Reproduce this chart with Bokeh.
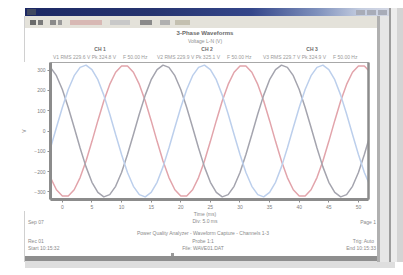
from bokeh.plotting import figure
from bokeh.models import Range1d, FixedTicker, Div, LinearAxis
from bokeh.layouts import column, row
from bokeh.embed import file_html
from bokeh.resources import INLINE

# ---- data ----
time_ms = list(range(-2, 53))
phase_red = [-230, -290,
             -321, -321, -290, -230, -148, -51, 51, 148, 230, 290, 321, 321, 290, 230, 148, 51, -51, -148, -230, -290,
             -321, -321, -290, -230, -148, -51, 51, 148, 230, 290, 321, 321, 290, 230, 148, 51, -51, -148, -230, -290,
             -321, -321, -290, -230, -148, -51, 51, 148, 230, 290, 321, 321, 290]
phase_grey = [314, 273,
              205, 116, 17, -84, -177, -253, -303, -325, -314, -273, -205, -116, -17, 84, 177, 253, 303, 325, 314, 273,
              205, 116, 17, -84, -177, -253, -303, -325, -314, -273, -205, -116, -17, 84, 177, 253, 303, 325, 314, 273,
              205, 116, 17, -84, -177, -253, -303, -325, -314, -273, -205, -116, -17]
phase_blue = [-84, 17,
              116, 205, 273, 314, 325, 303, 253, 177, 84, -17, -116, -205, -273, -314, -325, -303, -253, -177, -84, 17,
              116, 205, 273, 314, 325, 303, 253, 177, 84, -17, -116, -205, -273, -314, -325, -303, -253, -177, -84, 17,
              116, 205, 273, 314, 325, 303, 253, 177, 84, -17, -116, -205, -273]
x_ticks = [0, 5, 10, 15, 20, 25, 30, 35, 40, 45, 50]
y_ticks = [-300, -200, -100, 0, 100, 200, 300]
channel_names = ["CH 1", "CH 2", "CH 3"]
legend_main = ["V1 RMS 229.6 V  Pk 324.8 V", "V2 RMS 229.9 V  Pk 325.1 V", "V3 RMS 229.7 V  Pk 324.9 V"]
legend_freq = ["F 50.00 Hz", "F 50.00 Hz", "F 50.00 Hz"]

FONT = "Liberation Sans"

# ---- chart ----
p = figure(width=377, height=149, output_backend="svg", toolbar_location=None,
           x_range=Range1d(-2, 51.7), y_range=Range1d(-338, 338),
           min_border_left=50, min_border_right=9, min_border_top=0, min_border_bottom=8)
p.background_fill_color = "white"
p.border_fill_color = "white"
p.outline_line_color = "#a8a8a8"
p.outline_line_width = 1
p.grid.grid_line_color = None

p.line(time_ms, phase_red, line_color="#e2a4ab", line_width=1.5)
p.line(time_ms, phase_grey, line_color="#a4a4ae", line_width=1.5)
p.line(time_ms, phase_blue, line_color="#bccfec", line_width=1.5)

for ax in (p.xaxis[0], p.yaxis[0]):
    ax.axis_line_color = "#8c8c8c"
    ax.axis_line_width = 3
    ax.major_tick_line_color = "#8c8c8c"
    ax.major_tick_out = 3
    ax.major_tick_in = 0
    ax.minor_tick_line_color = None
    ax.major_label_text_font = FONT
    ax.major_label_text_font_size = "5px"
    ax.major_label_text_color = "#808080"
    ax.major_label_standoff = 2
p.xaxis.ticker = FixedTicker(ticks=x_ticks)
p.yaxis.ticker = FixedTicker(ticks=y_ticks)
p.yaxis.axis_label = "V"
p.yaxis.axis_label_text_font = FONT
p.yaxis.axis_label_text_font_size = "5px"
p.yaxis.axis_label_text_font_style = "normal"
p.yaxis.axis_label_text_color = "#808080"
p.yaxis.axis_label_standoff = 4

right_axis = LinearAxis(ticker=FixedTicker(ticks=[]), axis_line_color="#8c8c8c", axis_line_width=2.5,
                        major_tick_line_color=None, minor_tick_line_color=None,
                        major_label_text_alpha=0)
p.add_layout(right_axis, "right")


# ---- window chrome and page texts as HTML ----
def hbox(x, y, w, h, bg):
    return (f'<div style="position:absolute;left:{x}px;top:{y}px;width:{w}px;height:{h}px;'
            f'background:{bg};"></div>')


def htext(text, x, y, size=5, color="#8a8a8a", bold=False, align="center"):
    tx = {"center": "-50%", "left": "0", "right": "-100%"}[align]
    weight = "bold" if bold else "normal"
    return (f'<div style="position:absolute;left:{x}px;top:{y}px;transform:translate({tx},-50%);'
            f'white-space:nowrap;line-height:1;font-family:\'{FONT}\';font-size:{size}px;'
            f'font-weight:{weight};color:{color};">{text}</div>')


def panel(w, h, parts):
    html = (f'<div style="position:relative;width:{w}px;height:{h}px;overflow:hidden;background:white;">'
            + "".join(parts) + '</div>')
    return Div(text=html, width=w, height=h, margin=0,
               styles={"padding": "0", "margin": "0", "overflow": "hidden"})


def right_chrome(y0, y1, oy):
    # scroll bar and shadow on the right side, in panel coordinates (x offset 377)
    parts = []
    top = max(y0, 16)
    parts.append(hbox(0, top - oy, 3, y1 - top, "#b0b0b0"))
    parts.append(hbox(3, top - oy, 9, y1 - top, "#e6e6e6"))
    parts.append(hbox(12, max(y0, 8) - oy, 2, y1 - max(y0, 8), "#9c9c9c"))
    parts.append(hbox(14, max(y0, 8) - oy, 6, y1 - max(y0, 8), "#ececec"))
    parts.append(hbox(20, max(y0, 8) - oy, 6, y1 - max(y0, 8), "#d4d4d4"))
    return parts


top_parts = [
    hbox(25, 8, 365, 8, "linear-gradient(to right,#1c2864 0%,#26346f 35%,#34468a 62%,#7e90bc 80%,#c4cde0 92%,#d4d8e4 100%)"),
    hbox(27, 9, 9, 6, "#404860"),
    hbox(356, 10, 9, 5, "#a8acb8"), hbox(367, 10, 9, 5, "#a8acb8"), hbox(378, 10, 9, 5, "#a8acb8"),
    hbox(25, 16, 352, 12, "#e4e2da"),
    hbox(24, 16, 1, 46, "#d0d0d0"),
]
for (a, b, c) in [(30, 36, "#6a6a6a"), (38, 43, "#7a7a7a"), (50, 56, "#8a8a8a"), (58, 62, "#9a9a9a"),
                  (70, 102, "#d8b8b4"), (110, 130, "#c8c8c8"), (140, 152, "#8a8a8a"),
                  (160, 170, "#b0b0b0"), (175, 190, "#c4c0b0")]:
    top_parts.append(hbox(a, 20, b - a, 5, c))
top_parts.append(htext("3-Phase Waveforms", 205, 33, size=6, color="#6a6a6a", bold=True))
top_parts.append(htext("Voltage L-N (V)", 205, 41, color="#909090"))
for name, cx in zip(channel_names, [100, 207, 312]):
    top_parts.append(htext(name, cx, 49, color="#6a6a6a", bold=True))
for main, freq, x0 in zip(legend_main, legend_freq, [53, 157, 263]):
    top_parts.append(htext(main, x0, 57, color="#9a9a9a", align="left"))
    top_parts.append(htext(freq, x0 + 70, 57, color="#9a9a9a", align="left"))
rc = "".join(right_chrome(0, 62, 0))
top_parts.append(f'<div style="position:absolute;left:377px;top:0;width:26px;height:62px;">{rc}</div>')
top_div = panel(403, 62, top_parts)

right_div = panel(26, 149, [hbox(0, 0, 26, 149, "white")] + right_chrome(62, 211, 62))

bottom_parts = [
    htext("Time (ms)", 205, 214 - 211),
    htext("Div: 5.0 ms", 205, 221 - 211),
    htext("Sep 07", 28, 222 - 211, align="left"),
    htext("Page 1", 376, 222 - 211, align="right"),
    htext("Power Quality Analyzer - Waveform Capture - Channels 1-3", 203, 233 - 211),
    htext("Probe 1:1", 203, 241 - 211),
    htext("File: WAVE01.DAT", 203, 248 - 211),
    htext("Rec 01", 28, 241 - 211, align="left"),
    htext("Start 10:15:32", 28, 248 - 211, align="left"),
    htext("Trig: Auto", 374, 241 - 211, align="right"),
    htext("End 10:15:33", 376, 248 - 211, align="right"),
    hbox(24, 0, 1, 51, "#d0d0d0"),
    hbox(25, 256 - 211, 366, 5, "#8e8e8e"),
    hbox(25, 261 - 211, 370, 7, "#dedede"),
    hbox(171, 253 - 211, 3, 3, "#9a9a9a"),
]
rcb = "".join(right_chrome(211, 262, 211))
bottom_parts.append(f'<div style="position:absolute;left:377px;top:0;width:26px;height:64px;">{rcb}</div>')
bottom_div = panel(403, 64, bottom_parts)

layout = column(top_div, row(p, right_div, spacing=0), bottom_div, spacing=0)

open("out.html", "w").write(file_html(layout, INLINE))
